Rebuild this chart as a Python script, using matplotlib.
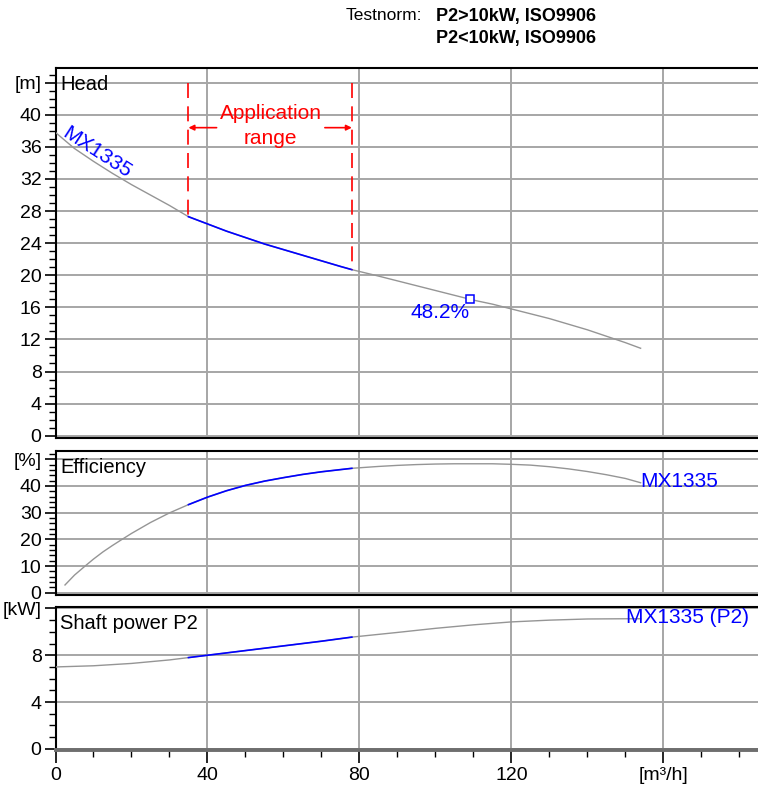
"""
Pump curve chart: head, efficiency and shaft power vs flow.
"""

import numpy as np
import matplotlib
matplotlib.use('Agg')
import matplotlib.pyplot as plt
from matplotlib.ticker import MultipleLocator

plt.rcParams['font.family'] = ['Liberation Sans', 'DejaVu Sans']

# Flow [m3/h] and head [m]
head_q = [0, 5, 10, 15, 20, 25, 30, 35, 40, 45, 50, 55, 60, 65, 70, 75, 78,
          85, 90, 95, 100, 105, 110, 115, 120, 125, 130, 135, 140, 145, 150, 154]
head_h = [37.8, 35.8, 34.2, 32.7, 31.3, 30.0, 28.7, 27.3, 26.4, 25.5, 24.7,
          23.9, 23.2, 22.5, 21.8, 21.1, 20.7, 19.9, 19.3, 18.7, 18.1, 17.5,
          16.9, 16.4, 15.8, 15.2, 14.6, 13.9, 13.2, 12.4, 11.6, 10.9]

# Efficiency [%]
eff_q = [2.5, 5, 7.8, 10, 12.5, 15, 17.2, 20, 25, 30, 35, 40, 45, 50, 55, 60,
         65, 70, 78, 85, 90, 95, 100, 105, 110, 115, 120, 125, 130, 135, 140,
         145, 150, 154]
eff_v = [2.9, 6.6, 10.0, 12.6, 15.3, 17.7, 19.7, 22.2, 26.3, 29.9, 33.0,
         35.8, 38.2, 40.2, 41.8, 43.1, 44.3, 45.3, 46.6, 47.3, 47.7, 48.0,
         48.2, 48.3, 48.3, 48.3, 48.1, 47.8, 47.2, 46.4, 45.4, 44.2, 42.8, 41.2]

# Shaft power P2 [kW]
pow_q = [0, 10, 20, 30, 35, 40, 50, 60, 70, 78, 90, 100, 110, 120, 130, 140,
         150, 154]
pow_v = [7.0, 7.1, 7.3, 7.6, 7.8, 8.0, 8.4, 8.8, 9.2, 9.55, 9.95, 10.3,
         10.6, 10.85, 11.0, 11.1, 11.12, 11.12]

app_range = (35, 78)
bep_q, bep_h, bep_eff = 109, 17.0, 48.2

x_ticks = [0, 40, 80, 120, 160]
x_labels = ['0', '40', '80', '120', '[m³/h]']
head_ticks = list(range(0, 45, 4))
eff_ticks = list(range(0, 51, 10))
pow_ticks = [0, 4, 8, 12]

BLUE = '#0000ff'
GRAY_CURVE = '#959595'
GRID = '#a6a6a6'
W, H = 758, 788
TICK_FS = 14


def px_axes(fig, top, bottom, left=55.5, right=758):
    return fig.add_axes([left / W, 1 - bottom / H, (right - left) / W, (bottom - top) / H])


def style_axes(ax, yticks, ylabels, ymin, ymax, yminor, bottom_axis=False):
    ax.set_xlim(0, 184.9)
    ax.set_ylim(ymin, ymax)
    ax.set_yticks(yticks)
    ax.set_yticklabels(ylabels, fontsize=TICK_FS)
    ax.yaxis.set_minor_locator(MultipleLocator(yminor))
    ax.set_xticks(x_ticks)
    ax.xaxis.set_minor_locator(MultipleLocator(10))
    ax.grid(True, which='major', color=GRID, linewidth=1.4)
    ax.set_axisbelow(True)
    ax.spines['right'].set_visible(False)
    for s in ('top', 'left', 'bottom'):
        ax.spines[s].set_color('black')
        ax.spines[s].set_linewidth(1.5)
    ax.tick_params(axis='y', which='major', direction='out', length=8, width=1.2, pad=2)
    ax.tick_params(axis='y', which='minor', direction='out', length=5, width=1.0)
    if bottom_axis:
        ax.set_xticklabels(x_labels, fontsize=TICK_FS)
        ax.tick_params(axis='x', which='major', direction='out', length=9, width=1.2, pad=3)
        ax.tick_params(axis='x', which='minor', direction='out', length=5, width=1.0)
        ax.spines['bottom'].set_color('#6e6e6e')
        ax.spines['bottom'].set_linewidth(2.8)
    else:
        ax.tick_params(axis='x', which='both', length=0, labelbottom=False)


def draw_curve(ax, q, v):
    q = np.asarray(q)
    v = np.asarray(v)
    ax.plot(q, v, color=GRAY_CURVE, linewidth=1.0, zorder=3)
    m = (q >= app_range[0]) & (q <= app_range[1])
    ax.plot(q[m], v[m], color=BLUE, linewidth=1.2, zorder=4)


fig = plt.figure(figsize=(W / 100, H / 100), dpi=100)

# Head panel
ax1 = px_axes(fig, 68.3, 437.7)
style_axes(ax1, head_ticks, [str(t) for t in head_ticks[:-1]] + ['[m]'], -0.25, 45.8, 1)
draw_curve(ax1, head_q, head_h)
ax1.text(0.007, 0.957, 'Head', transform=ax1.transAxes, fontsize=14.5, va='center', ha='left')
ax1.text(10.9, 35.3, 'MX1335', color=BLUE, fontsize=15, rotation=-33,
         ha='center', va='center', rotation_mode='anchor')
ax1.plot([bep_q], [bep_h], marker='s', markersize=6, markerfacecolor='white',
         markeredgecolor=BLUE, markeredgewidth=1.1, zorder=5)
ax1.text(bep_q, 15.4, f'{bep_eff}%', color=BLUE, fontsize=15, ha='right', va='center')

# application range markers
for q0 in app_range:
    h0 = np.interp(q0, head_q, head_h)
    ax1.plot([q0, q0], [44, h0], color='red', linewidth=1.2, dashes=(9, 5), zorder=5)
ax1.annotate('', xy=(app_range[0], 38.4), xytext=(42.4, 38.4),
             arrowprops=dict(arrowstyle='-|>', color='red', lw=1.2,
                             mutation_scale=8, shrinkA=0, shrinkB=0))
ax1.annotate('', xy=(app_range[1], 38.4), xytext=(70.9, 38.4),
             arrowprops=dict(arrowstyle='-|>', color='red', lw=1.2,
                             mutation_scale=8, shrinkA=0, shrinkB=0))
ax1.text(56.6, 38.6, 'Application\nrange', color='red', fontsize=15,
         ha='center', va='center', linespacing=1.4)

# Efficiency panel
ax2 = px_axes(fig, 450.7, 594.5)
style_axes(ax2, eff_ticks, [str(t) for t in eff_ticks[:-1]] + ['[%]'], -0.67, 53.2, 2)
draw_curve(ax2, eff_q, eff_v)
ax2.text(0.007, 0.88, 'Efficiency', transform=ax2.transAxes, fontsize=14.5, va='center', ha='left')
ax2.text(153.8, 41.5, 'MX1335', color=BLUE, fontsize=15, ha='left', va='center')

# Shaft power panel
ax3 = px_axes(fig, 606.7, 750)
style_axes(ax3, pow_ticks, [str(t) for t in pow_ticks[:-1]] + ['[kW]'], -0.1, 12.15, 1,
           bottom_axis=True)
draw_curve(ax3, pow_q, pow_v)
ax3.text(0.007, 0.885, 'Shaft power P2', transform=ax3.transAxes, fontsize=14.5,
         va='center', ha='left')
ax3.text(150.1, 11.2, 'MX1335 (P2)', color=BLUE, fontsize=15, ha='left', va='center')

# Test standard header
fig.text(422 / W, 1 - 16 / H, 'Testnorm:', fontsize=12.5, ha='right', va='center')
fig.text(436 / W, 1 - 16 / H, 'P2>10kW, ISO9906', fontsize=13, fontweight='bold',
         ha='left', va='center')
fig.text(436 / W, 1 - 38 / H, 'P2<10kW, ISO9906', fontsize=13, fontweight='bold',
         ha='left', va='center')

plt.savefig('out.png', dpi=100)
plt.close(fig)
